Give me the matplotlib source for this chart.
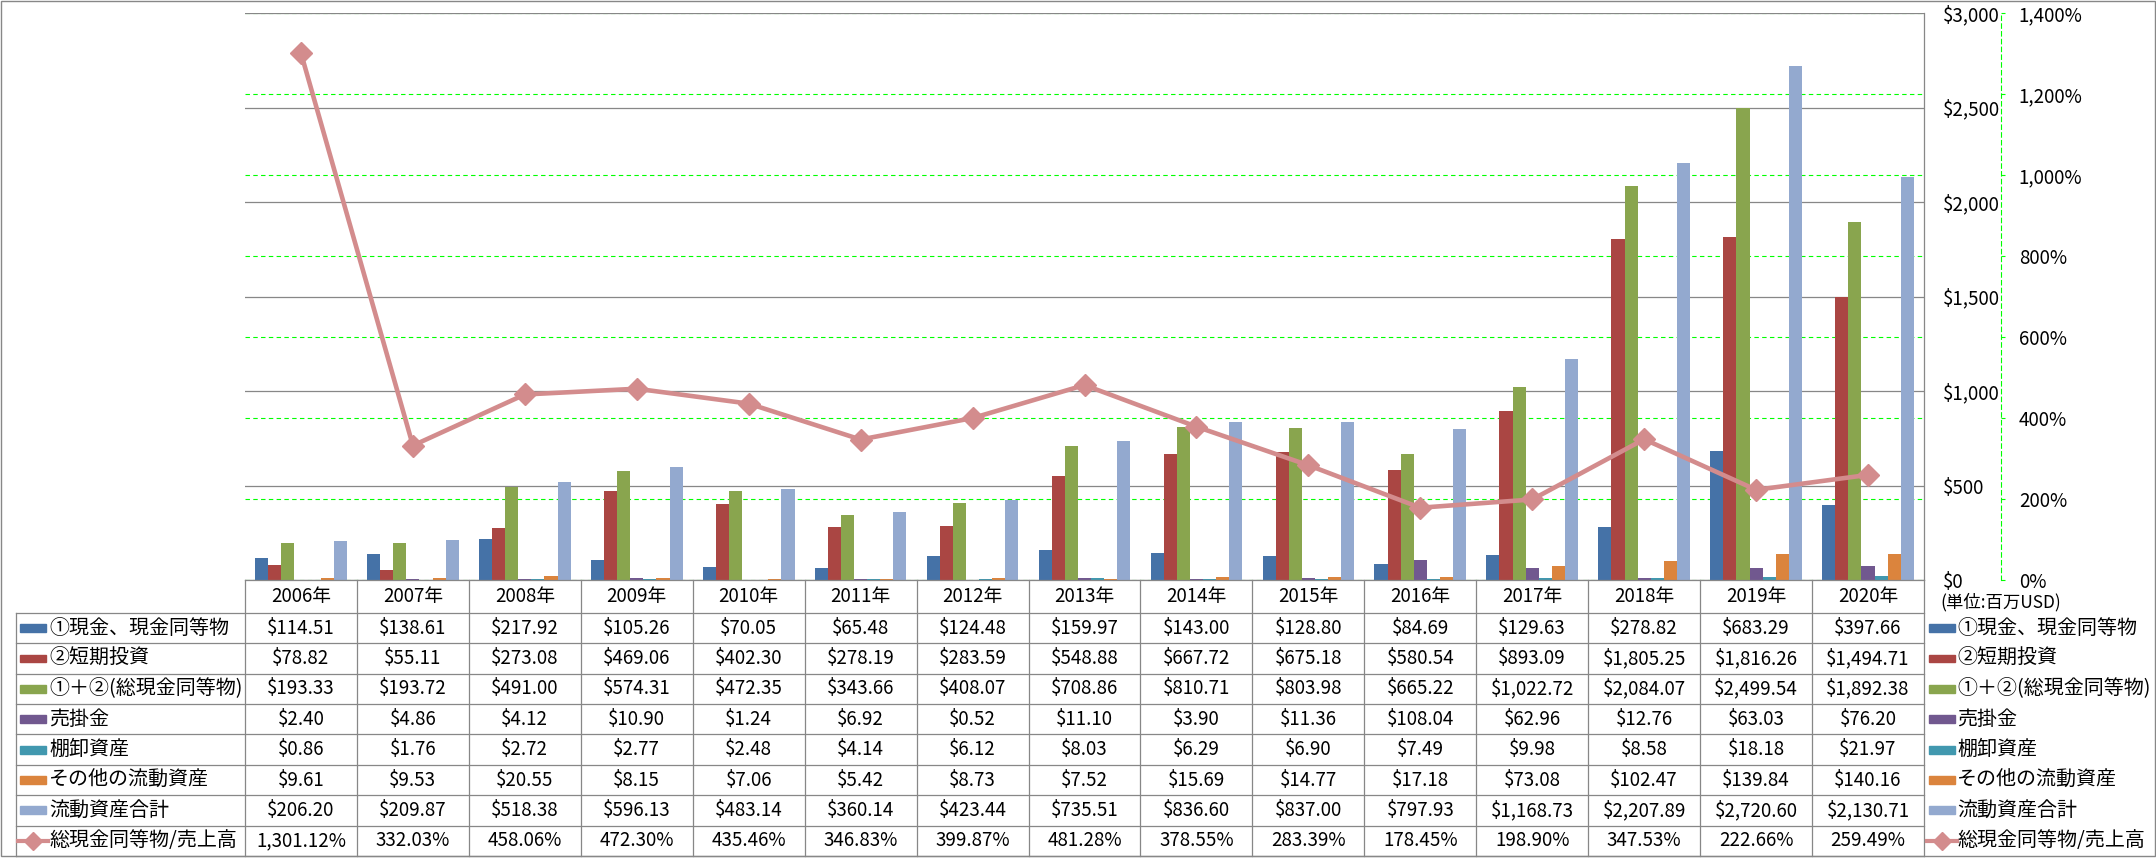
import matplotlib
matplotlib.use("Agg")
import matplotlib.pyplot as plt
import numpy as np
from matplotlib import transforms
from matplotlib.lines import Line2D
from matplotlib.patches import Rectangle
from matplotlib.ticker import FuncFormatter

plt.rcParams['font.family'] = ['Noto Sans CJK JP', 'DejaVu Sans']

years = ['2006年', '2007年', '2008年', '2009年', '2010年', '2011年', '2012年', '2013年',
         '2014年', '2015年', '2016年', '2017年', '2018年', '2019年', '2020年']

cash = [114.51, 138.61, 217.92, 105.26, 70.05, 65.48, 124.48, 159.97, 143.00, 128.80,
        84.69, 129.63, 278.82, 683.29, 397.66]
short_inv = [78.82, 55.11, 273.08, 469.06, 402.30, 278.19, 283.59, 548.88, 667.72, 675.18,
             580.54, 893.09, 1805.25, 1816.26, 1494.71]
total_cash = [193.33, 193.72, 491.00, 574.31, 472.35, 343.66, 408.07, 708.86, 810.71, 803.98,
              665.22, 1022.72, 2084.07, 2499.54, 1892.38]
receivables = [2.40, 4.86, 4.12, 10.90, 1.24, 6.92, 0.52, 11.10, 3.90, 11.36,
               108.04, 62.96, 12.76, 63.03, 76.20]
inventory = [0.86, 1.76, 2.72, 2.77, 2.48, 4.14, 6.12, 8.03, 6.29, 6.90,
             7.49, 9.98, 8.58, 18.18, 21.97]
other_assets = [9.61, 9.53, 20.55, 8.15, 7.06, 5.42, 8.73, 7.52, 15.69, 14.77,
                17.18, 73.08, 102.47, 139.84, 140.16]
current_total = [206.20, 209.87, 518.38, 596.13, 483.14, 360.14, 423.44, 735.51, 836.60, 837.00,
                 797.93, 1168.73, 2207.89, 2720.60, 2130.71]
cash_ratio = [1301.12, 332.03, 458.06, 472.30, 435.46, 346.83, 399.87, 481.28, 378.55, 283.39,
              178.45, 198.90, 347.53, 222.66, 259.49]

bar_names = ['①現金、現金同等物', '②短期投資', '①＋②(総現金同等物)', '売掛金',
             '棚卸資産', 'その他の流動資産', '流動資産合計']
line_name = '総現金同等物/売上高'
bar_colors = ['#4572A7', '#AA4643', '#89A54E', '#71588F', '#4198AF', '#DB843D', '#93A9CF']
line_color = '#D38C8D'
bar_data = [cash, short_inv, total_cash, receivables, inventory, other_assets, current_total]

GRAY = '#878787'
GREEN = '#00FF00'

W, H = 2156, 858
fig = plt.figure(figsize=(W / 100, H / 100), dpi=100)


def fx(px):
    return px / W


def fy(py):
    return 1 - py / H


L, R, T, B = 245, 1924, 13, 580
rect = [fx(L), fy(B), fx(R) - fx(L), fy(T) - fy(B)]

# percent axis (bottom layer, green grid)
axg = fig.add_axes(rect)
ax = axg.twinx()
axl = axg.twinx()

x = np.arange(len(years))

axg.set_xlim(-0.5, 14.5)
axg.set_ylim(0, 1400)
axg.set_yticks(np.arange(0, 1401, 200))
axg.yaxis.set_major_formatter(FuncFormatter(lambda v, p: '{:,.0f}%'.format(v)))
axg.yaxis.tick_right()
axg.grid(True, axis='y', color=GREEN, lw=0.8, linestyle=(0, (4, 3)))
axg.set_xticks([])
for s in ['left', 'top', 'bottom']:
    axg.spines[s].set_visible(False)
axg.spines['right'].set_position(('outward', 55.4))
axg.spines['right'].set_color(GREEN)
axg.spines['right'].set_linestyle((0, (4, 3)))
axg.spines['right'].set_linewidth(0.8)
axg.tick_params(axis='y', direction='out', length=2.9, width=0.8, color=GREEN,
                pad=10, labelsize=13.5)

# dollar axis with bars
ax.set_ylim(0, 3000)
ax.set_yticks(np.arange(0, 3001, 500))
ax.yaxis.set_major_formatter(FuncFormatter(lambda v, p: '${:,.0f}'.format(v)))
ax.yaxis.tick_right()
ax.tick_params(axis='y', length=0, pad=13.7, labelsize=13.5)
ax.grid(True, axis='y', color=GRAY, lw=0.9)
ax.set_axisbelow(True)
for s in ['left', 'top']:
    ax.spines[s].set_visible(False)
ax.spines['right'].set_color(GRAY)
ax.spines['bottom'].set_color(GRAY)
ax.spines['right'].set_linewidth(0.9)
ax.spines['bottom'].set_linewidth(0.9)

w = 0.117
for k in range(len(bar_data)):
    ax.bar(x + (k - 3) * w, bar_data[k], width=w, color=bar_colors[k], zorder=2)

# ratio line on top
axl.set_ylim(0, 1400)
axl.plot(x, cash_ratio, color=line_color, lw=3.3, marker='D', ms=11.5,
         mfc=line_color, mec=line_color, solid_joinstyle='round')
axl.set_axis_off()
ax.set_xlim(-0.5, 14.5)

# data table
TB = 856
tax = fig.add_axes([fx(L), fy(TB), fx(R) - fx(L), fy(B) - fy(TB)])
hh = 33 / 30.4
tax.set_xlim(-0.5, 14.5)
tax.set_ylim(8, -hh)
tax.axis('off')
bt = transforms.blended_transform_factory(fig.transFigure, tax.transData)

for r in range(9):
    tax.add_line(Line2D([fx(16), fx(R)], [r, r], transform=bt, color=GRAY, lw=0.9, clip_on=False))
tax.add_line(Line2D([fx(16), fx(16)], [0, 8], transform=bt, color=GRAY, lw=0.9, clip_on=False))
for j in range(16):
    tax.plot([j - 0.5, j - 0.5], [-hh, 8], color=GRAY, lw=0.9, clip_on=False)

for i in range(len(years)):
    tax.text(i, -hh / 2, years[i], ha='center', va='center', fontsize=13.5)

rows = bar_data + [cash_ratio]
for r in range(len(rows)):
    for i in range(len(years)):
        if r < 7:
            s = '${:,.2f}'.format(rows[r][i])
        else:
            s = '{:,.2f}%'.format(rows[r][i])
        tax.text(i, r + 0.5, s, ha='center', va='center', fontsize=13.5)


def legend_key(r, x0, tx):
    yc = r + 0.5
    if r < 7:
        tax.add_patch(Rectangle((fx(x0), yc - 0.13), fx(26), 0.26, transform=bt,
                                color=bar_colors[r], clip_on=False))
        name = bar_names[r]
    else:
        tax.add_line(Line2D([fx(x0 - 2), fx(x0 + 28)], [yc, yc], transform=bt,
                            color=line_color, lw=3.0, clip_on=False))
        tax.add_line(Line2D([fx(x0 + 13)], [yc], transform=bt, marker='D', ms=9,
                            color=line_color, clip_on=False))
        name = line_name
    tax.text(fx(tx), yc, name, transform=bt, ha='left', va='center', fontsize=14.4)


for r in range(8):
    legend_key(r, 20, 49)
    legend_key(r, 1929, 1957)

fig.text(fx(1940), fy(602), '(単位:百万USD)', ha='left', va='center', fontsize=12.5)

fig.add_artist(Rectangle((fx(1), fy(856)), fx(2154), fy(1) - fy(856), fill=False,
                         ec=GRAY, lw=1.0, transform=fig.transFigure))

fig.savefig('out.png', dpi=100)
